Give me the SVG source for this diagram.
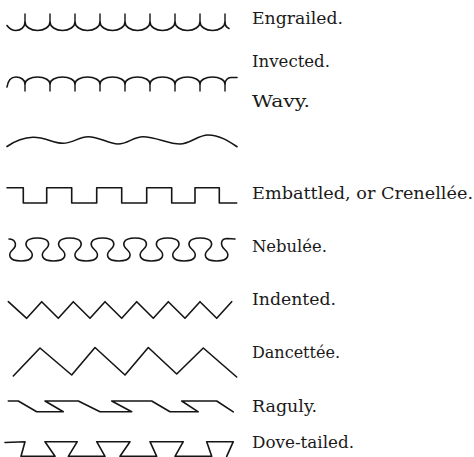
<svg xmlns="http://www.w3.org/2000/svg" width="474" height="457" viewBox="0 0 474 457">
<style>
.ln{fill:none;stroke:#151515;stroke-width:1.6;stroke-linejoin:round;stroke-linecap:round}
.st{fill:none;stroke:#151515;stroke-width:1.4;stroke-linecap:round}
.lb{font-family:"DejaVu Serif","Liberation Serif",serif;font-size:16px;fill:#1a1a1a}
</style>
<rect width="474" height="457" fill="#ffffff"/>
<g id="engrailed">
<path class="ln" d="M7,25.5 C9.5,29 12.5,30.5 16,30.5 C21,30.5 25,27 25,22 A12.5 8.5 0 0 0 50,22 A12.5 8.5 0 0 0 75,22 A12.5 8.5 0 0 0 100,22 A12.5 8.5 0 0 0 125,22 A12.5 8.5 0 0 0 150,22 A12.5 8.5 0 0 0 175,22 A12.5 8.5 0 0 0 200,22 A12.5 8.5 0 0 0 225,22 C225,25.5 226.5,27.5 229,28.5"/>
<path class="st" d="M25,22V14M50,22V14M75,22V14M100,22V14M125,22V14M150,22V14M175,22V14M200,22V14M225,22V14"/>
<text class="lb" x="252" y="24" textLength="91" lengthAdjust="spacingAndGlyphs">Engrailed.</text>
</g>
<g id="invected">
<path class="ln" d="M7,87 C8,80.5 11.5,77 16,77 C21,77 25,80 25,84 A12.5 7 0 0 1 50,84 A12.5 7 0 0 1 75,84 A12.5 7 0 0 1 100,84 A12.5 7 0 0 1 125,84 A12.5 7 0 0 1 150,84 A12.5 7 0 0 1 175,84 A12.5 7 0 0 1 200,84 A12.5 7 0 0 1 225,84 C225,80.5 227.5,77.5 231,77.5 L237,77.5"/>
<path class="st" d="M25,84V91M50,84V91M75,84V91M100,84V91M125,84V91M150,84V91M175,84V91M200,84V91M225,84V91"/>
<text class="lb" x="252" y="66.7" textLength="78" lengthAdjust="spacingAndGlyphs">Invected.</text>
</g>
<g id="wavy">
<path class="ln" d="M7,146.5 C15,141 24,137.5 33,137.3 C45,137 53,143.3 63,143.3 C73,143.3 79,136.7 88,136.7 C100,136.7 108,144 118,144 C128,144 133,136.7 143,136.7 C156,136.7 168,144 180,144 C190,144 198,135 208,135 C220,135 230,142 237,146.7"/>
<text class="lb" x="252" y="107.3" textLength="58" lengthAdjust="spacingAndGlyphs">Wavy.</text>
</g>
<g id="embattled">
<path class="ln" d="M7,187.7 H23.3 V203 H46.7 V187.7 H71.7 V203 H96.7 V187.7 H121.7 V203 H146.7 V187.7 H171.7 V203 H195 V187.7 H219.3 V203 H236.7"/>
<text class="lb" x="252" y="199.3" textLength="221" lengthAdjust="spacingAndGlyphs">Embattled, or Crenellée.</text>
</g>
<g id="nebulee">
<path class="ln" d="M9,239 C15,239 17.85,245 12.85,249.5 C7.85,254 7.85,261 21,261 C34.15,261 34.15,254 29.15,249.5 C24.15,245 24.15,238 37.3,238 C50.45,238 50.45,245 45.45,249.5 C40.45,254 40.45,261 53.6,261 C66.75,261 66.75,254 61.75,249.5 C56.75,245 56.75,238 69.9,238 C83.05,238 83.05,245 78.05,249.5 C73.05,254 73.05,261 86.2,261 C99.35,261 99.35,254 94.35,249.5 C89.35,245 89.35,238 102.5,238 C115.65,238 115.65,245 110.65,249.5 C105.65,254 105.65,261 118.8,261 C131.95,261 131.95,254 126.95,249.5 C121.95,245 121.95,238 135.1,238 C148.25,238 148.25,245 143.25,249.5 C138.25,254 138.25,261 151.4,261 C164.55,261 164.55,254 159.55,249.5 C154.55,245 154.55,238 167.7,238 C180.85,238 180.85,245 175.85,249.5 C170.85,254 170.85,261 184,261 C197.15,261 197.15,254 192.15,249.5 C187.15,245 187.15,238 200.3,238 C213.45,238 213.45,245 208.45,249.5 C203.45,254 203.45,261 216.6,261 C229.75,261 229.75,254 224.75,249.5 C219.75,245 220.5,238.5 227.5,238.5 L235,239"/>
<text class="lb" x="252" y="251.7" textLength="75" lengthAdjust="spacingAndGlyphs">Nebulée.</text>
</g>
<g id="indented">
<path class="ln" d="M8.3,301.7 L26.7,318.3 L41.7,301.7 L58.3,318.3 L73.3,301.7 L90,318.3 L105,301.7 L121.7,318.3 L136.7,301.7 L153.3,318.3 L168.3,301.7 L185,318.3 L200,301.7 L216.7,318.3 L231.7,301.7"/>
<text class="lb" x="252" y="305" textLength="84" lengthAdjust="spacingAndGlyphs">Indented.</text>
</g>
<g id="dancettee">
<path class="ln" d="M13.3,376 L40,348 L71.7,375 L95,347.5 L125,375 L148.3,347.5 L176.7,374 L203.3,348 L236.7,377"/>
<text class="lb" x="252" y="358.3" textLength="88" lengthAdjust="spacingAndGlyphs">Dancettée.</text>
</g>
<g id="raguly">
<path class="ln" d="M8.3,401 H18.3 L36.7,411.8 H63.3 L45,401 H78.3 L100,411.8 H131.7 L111.7,401 H151.7 L170,411.8 H198.3 L181.7,401 H216.7 L233.3,411.8"/>
<text class="lb" x="252" y="411.7" textLength="65" lengthAdjust="spacingAndGlyphs">Raguly.</text>
</g>
<g id="dovetailed">
<path class="ln" d="M5,442.5 L25,441.7 L21,456.3 H55 L45,441.7 H77.3 L68.3,456.3 H105 L96.7,441.7 H130 L120,456.3 H156.7 L150,441.7 H183.3 L175,456.3 H211.7 L206.7,441.7 H233.3 L226.7,456.3"/>
<text class="lb" x="252" y="448.3" textLength="102" lengthAdjust="spacingAndGlyphs">Dove-tailed.</text>
</g>
</svg>
